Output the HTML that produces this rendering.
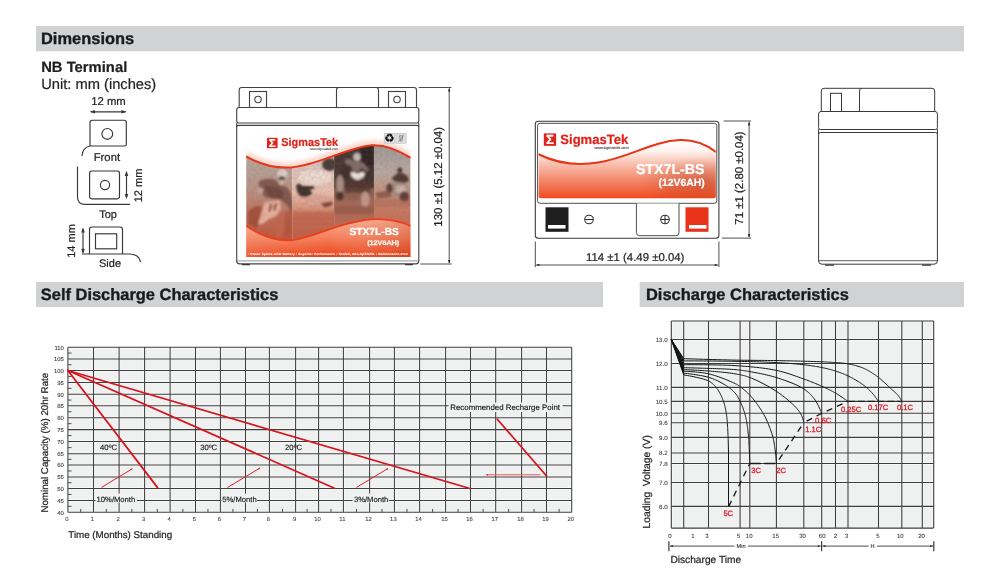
<!DOCTYPE html>
<html lang="en">
<head>
<meta charset="utf-8">
<title>STX7L-BS Dimensions and Discharge Characteristics</title>
<style>
html,body{margin:0;padding:0;background:#fff;}
body{width:1000px;height:576px;overflow:hidden;}
svg{display:block;}
svg text{font-family:"Liberation Sans",sans-serif;fill:#231f20;stroke:#231f20;stroke-width:0.22px;text-rendering:geometricPrecision;}
svg text.h{font-weight:bold;font-size:16.45px;fill:#1a1a1a;stroke:#1a1a1a;stroke-width:0.35px;}
svg text.b{font-weight:bold;}
</style>
</head>
<body>
<svg width="1000" height="576" viewBox="0 0 1000 576">
<rect width="1000" height="576" fill="#fff"/>
<defs>
<linearGradient id="lab1" x1="0" y1="0" x2="0" y2="1">
 <stop offset="0" stop-color="#ffffff"/><stop offset="0.2" stop-color="#fdf3ef"/>
 <stop offset="0.45" stop-color="#f6b9a4"/><stop offset="0.8" stop-color="#ee6a44"/><stop offset="1" stop-color="#e8401c"/>
</linearGradient>
<linearGradient id="redfill" gradientUnits="userSpaceOnUse" x1="0" y1="220" x2="0" y2="257">
 <stop offset="0" stop-color="#f8a98d"/><stop offset="0.45" stop-color="#f4825f"/><stop offset="0.8" stop-color="#ef5a32"/><stop offset="1" stop-color="#ea4318"/>
</linearGradient>
<linearGradient id="p1" x1="0" y1="0" x2="0" y2="1">
 <stop offset="0.15" stop-color="#b5aaa6"/><stop offset="0.45" stop-color="#b99687"/><stop offset="0.7" stop-color="#bd7560"/><stop offset="0.95" stop-color="#c2553a"/>
</linearGradient>
<linearGradient id="p2" x1="0" y1="0" x2="0" y2="1">
 <stop offset="0.2" stop-color="#d9c8c2"/><stop offset="0.5" stop-color="#ebc1b1"/><stop offset="0.66" stop-color="#d7917a"/><stop offset="0.72" stop-color="#c56e54"/><stop offset="1" stop-color="#c25a3f"/>
</linearGradient>
<linearGradient id="p3" x1="0" y1="0" x2="0" y2="1">
 <stop offset="0.05" stop-color="#5c4f4b"/><stop offset="0.4" stop-color="#73584f"/><stop offset="0.6" stop-color="#a26a58"/><stop offset="0.8" stop-color="#bd6b54"/><stop offset="1" stop-color="#c5583e"/>
</linearGradient>
<linearGradient id="p4" x1="0" y1="0" x2="0" y2="1">
 <stop offset="0.05" stop-color="#9e9b99"/><stop offset="0.3" stop-color="#b9aaa3"/><stop offset="0.5" stop-color="#c39482"/><stop offset="0.7" stop-color="#c7775f"/><stop offset="1" stop-color="#cd6146"/>
</linearGradient>
<filter id="bl" x="-20%" y="-20%" width="140%" height="140%"><feGaussianBlur stdDeviation="0.85"/></filter>
<filter id="grain" x="0" y="0" width="100%" height="100%"><feTurbulence type="fractalNoise" baseFrequency="0.35" numOctaves="2" seed="7" result="n"/><feColorMatrix in="n" type="matrix" values="0 0 0 0 0.25  0 0 0 0 0.12  0 0 0 0 0.1  1.6 0 0 0 -0.45"/></filter>
<filter id="glow" x="-10%" y="-40%" width="120%" height="180%"><feGaussianBlur stdDeviation="2"/></filter>
<filter id="bl2" x="-20%" y="-20%" width="140%" height="140%"><feGaussianBlur stdDeviation="0.6"/></filter>
<clipPath id="photoclip"><path d="M246.1 156.3 C262 165.5 278 168.4 291 167.4 C319 165.4 346 147.4 372 145.2 C386 144.4 399 150.4 410.7 157.8 V225.8 C398 220.6 384 217.6 366 219.9 C332 224.6 310 239.6 288 240.4 C274 240.8 258 234.2 246.1 225.8 Z"/></clipPath>
<clipPath id="c1"><rect x="246.1" y="140" width="46.3" height="110"/></clipPath>
<clipPath id="c2"><rect x="292.4" y="140" width="41.7" height="110"/></clipPath>
<clipPath id="c3"><rect x="334.1" y="140" width="39.9" height="110"/></clipPath>
<clipPath id="c4"><rect x="374" y="140" width="36.7" height="110"/></clipPath>
<linearGradient id="redfillx" x1="0" y1="0" x2="1" y2="0">
 <stop offset="0" stop-color="#fff" stop-opacity="0.12"/><stop offset="0.5" stop-color="#fff" stop-opacity="0"/><stop offset="1" stop-color="#a8300f" stop-opacity="0.22"/>
</linearGradient>
<clipPath id="labclip"><rect x="246.1" y="134" width="164.6" height="123"/></clipPath>
</defs>
<rect x="36" y="26" width="928" height="25.3" fill="#d1d2d4"/>
<rect x="36" y="282" width="567" height="25" fill="#d1d2d4"/>
<rect x="639.7" y="282" width="324.3" height="25" fill="#d1d2d4"/>
<text x="41" y="44.4" class="h">Dimensions</text>
<text x="40.8" y="300.3" class="h">Self Discharge Characteristics</text>
<text x="646" y="300.3" class="h">Discharge Characteristics</text>
<text x="41.2" y="72" class="b" font-size="14.8">NB Terminal</text>
<text x="41.2" y="88.6" font-size="14.7">Unit: mm (inches)</text>
<g fill="none" stroke="#383838" stroke-width="1.15">
<path d="M90 146 V122.5 Q90 120.2 92.3 120.2 H124 Q126.3 120.2 126.3 122.5 V144.5 Q126.3 146 124.8 146 H90 Q82.5 147.5 82 156"/>
<circle cx="107.3" cy="133.9" r="5.4"/>
<path d="M91 111.8 H125.5"/>
<path d="M77.5 166.5 V197 Q77.5 204.400 85 204.4 H130"/>
<rect x="89.6" y="171" width="29.9" height="27.8" rx="2.2"/>
<circle cx="105" cy="185" r="4.6"/>
<path d="M126.5 172.5 V197.5"/>
<path d="M82 254 H130 Q139 254.5 140.5 262"/>
<path d="M89.5 254 V229.5 Q89.5 227 92 227 H120 Q122.5 227 122.5 229.5 V254"/>
<rect x="95.5" y="233.8" width="21.2" height="15"/>
<path d="M83 229 V252.5"/>
</g>
<g fill="#3a3a3a" stroke="none">
<path d="M89.7 111.8 L95 110 V113.6 Z M126.7 111.8 L121.4 110 V113.6 Z"/>
<path d="M126.5 170.8 L124.7 176 H128.3 Z M126.5 199.2 L124.7 194 H128.3 Z"/>
<path d="M83 227.2 L81.2 232.4 H84.8 Z M83 254 L81.2 248.8 H84.8 Z"/>
</g>
<text x="108.5" y="105.3" font-size="11.3" text-anchor="middle">12 mm</text>
<text x="106.9" y="160.5" font-size="11.3" text-anchor="middle">Front</text>
<text x="108" y="218" font-size="11" text-anchor="middle">Top</text>
<text x="110" y="267" font-size="11" text-anchor="middle">Side</text>
<text transform="translate(142 185.5) rotate(-90)" font-size="11" text-anchor="middle">12 mm</text>
<text transform="translate(75.3 241) rotate(-90)" font-size="11" text-anchor="middle">14 mm</text>
<g fill="#fff" stroke="#424242" stroke-width="1.12">
<path d="M239.2 107.5 V90 Q239.2 87.5 241.7 87.5 H414 Q416.5 87.5 416.5 90 V107.5 Z"/>
<rect x="249.5" y="91.5" width="17" height="16"/>
<circle cx="258" cy="99.5" r="3.2"/>
<rect x="388.5" y="91.5" width="17" height="16"/>
<circle cx="397" cy="99.5" r="3.2"/>
<path d="M336.5 107.5 V90 Q336.5 87.5 339 87.5 H376 Q378.5 87.5 378.5 90 V107.5"/>
<path d="M236.7 121.3 V110 Q236.7 107.5 239.2 107.5 H416.3 Q418.8 107.5 418.8 110 V121.3 Q418.8 123 416.8 123 H238.7 Q236.700 123 236.7 121.3 Z"/>
<path d="M236.7 127 Q236.7 125.4 238.7 125.4 H416.8 Q418.800 125.4 418.8 127 V261 Q418.8 263.9 415.8 263.9 H239.7 Q236.7 263.9 236.7 261 Z"/>
<path d="M236.7 123 V127 M418.8 123 V127"/>
<path d="M237 260.9 H418.5" stroke-width="0.8" stroke="#777"/>
</g>
<path d="M242 264.6 H250 M405 264.6 H413" stroke="#3a3a3a" stroke-width="1.2" fill="none"/>
<g clip-path="url(#labclip)">
<rect x="246.1" y="134" width="164.6" height="122.6" fill="#fff"/>
<path d="M246.1 156.3 C262 165.5 278 168.4 291 167.4 C319 165.4 346 147.4 372 145.2 C386 144.4 399 150.4 410.7 157.8" fill="none" stroke="#f7c3b2" stroke-width="5" filter="url(#glow)" transform="translate(0 -2.2)" opacity="0.8"/>
<g clip-path="url(#photoclip)">
<rect x="246.1" y="140" width="46.3" height="105" fill="url(#p1)"/>
<rect x="292.4" y="140" width="41.7" height="105" fill="url(#p2)"/>
<rect x="334.1" y="140" width="39.9" height="105" fill="url(#p3)"/>
<rect x="374" y="140" width="36.7" height="105" fill="url(#p4)"/>
<g clip-path="url(#c1)"><g filter="url(#bl)">
<path d="M258.500 182 C262 178.500 270 178 276 180 L279.5 184.500 L286 186.500 L290.500 192 L292.500 203 L292.5 214 L287 205 L280 199.5 L272 198.5 L265 197 L260 191 Z" fill="#7c544b" opacity="0.92"/>
<path d="M264 186 L278 187 L284 193 L282 199 L270 197.500 Z" fill="#6a3f38" opacity="0.7"/>
<ellipse cx="260.6" cy="190.6" rx="2.6" ry="2.8" fill="#d2b2a6" opacity="0.9"/>
<ellipse cx="282.4" cy="174.3" rx="5.3" ry="5.1" fill="#dad2cd"/>
<ellipse cx="281.8" cy="178" rx="3.5" ry="1.7" fill="#41312e" opacity="0.95"/>
<ellipse cx="281.7" cy="182.8" rx="2.4" ry="1.9" fill="#d8c6bd" opacity="0.9"/>
<path d="M248 212 C252 206 260 204 264 208 L262 222 L256 228 L248 224 Z" fill="#98442e" opacity="0.7"/>
<path d="M264.5 202.500 L279.5 200.3 L281 208 L277 216 L269 219 L262.500 224 L258 224.500 Z" fill="#ecb6a2" opacity="0.95"/>
<path d="M270.300 204 L272.6 203.700 L270.4 211.500 L268.2 211.8 Z M275 203.300 L277.2 203 L275.3 210.500 L273.1 210.8 Z" fill="#7a3626" opacity="0.95"/>
<path d="M275.5 215 L283 213.500 L284 226 L281 237 L275.500 237 Z" fill="#c7664e" opacity="0.8"/>
<path d="M284 212 L292.5 210 V235 L285 236 Z" fill="#aa4c34" opacity="0.55"/>
</g></g>
<g clip-path="url(#c2)"><g filter="url(#bl)">
<ellipse cx="329.5" cy="164.5" rx="7.500" ry="6.5" fill="#3b302e" opacity="0.92"/>
<ellipse cx="315" cy="177.5" rx="17" ry="7.5" fill="#f4e7e1" opacity="0.65"/>
<path d="M300 196.500 L308 197.500 L318 194.300 L327 196 L332.500 200.5 L327 206 L313 203.500 L303 201.5 Z" fill="#dba596" opacity="0.95"/>
<path d="M296 185.500 L299 183.200 L302.300 186 L308 186 L313.300 185.800 L314.8 188.300 L310 190 L312.500 194 L306 197.300 L300 196.300 L297 191.500 Z" fill="#3a2a27" opacity="0.96"/>
<path d="M320.500 203.300 L332.500 201 L332 205.300 L325 207.800 Z" fill="#7b3c30" opacity="0.9"/>
<path d="M292.400 211.500 H334.100 V242 H292.400 Z" fill="#c1624a" opacity="0.55"/>
<path d="M293 216 H333 M293 221.500 H333 M293 227 H333" stroke="#d98a74" stroke-width="0.8" opacity="0.5" fill="none"/>
</g></g>
<g clip-path="url(#c3)"><g filter="url(#bl)">
<rect x="334" y="140" width="40" height="48" fill="#3f3330" opacity="0.85"/>
<rect x="360" y="140" width="14" height="26" fill="#231d1c" opacity="0.7"/>
<ellipse cx="346" cy="172" rx="5" ry="9" fill="#3a2c29" opacity="0.6"/>
<ellipse cx="369" cy="176" rx="4.500" ry="12" fill="#3a2c29" opacity="0.55"/>
<path d="M344.300 160.300 L350 158.800 L353.500 161.500 L360.500 161.500 L364 163.500 L368.800 169.800 L367.300 171.500 L361 167.800 L359 171.500 L353 171.500 L351.500 166 L346.500 164.500 Z" fill="#85706a" opacity="0.95"/>
<ellipse cx="357" cy="157" rx="3.6" ry="3.9" fill="#cbbfb9"/>
<path d="M350.800 172.500 C353 171.300 355.500 172.300 357.700 173.800 C360 172.300 362.500 171.300 364.700 172.500 C365.300 175.500 363 178.300 359.500 179.200 L357.700 180.300 L356 179.200 C352.500 178.300 350.200 175.500 350.800 172.500 Z" fill="#f4eae6" opacity="0.97"/>
<path d="M345 181 H370 V193 H345 Z" fill="#54362f" opacity="0.75"/>
<ellipse cx="340" cy="184" rx="3.8" ry="9" fill="#ad958c" opacity="0.95"/>
<ellipse cx="339.8" cy="196" rx="3.8" ry="4.500" fill="#3e2a25" opacity="0.85"/>
<ellipse cx="365.2" cy="199.500" rx="4.3" ry="8" fill="#c49c8f" opacity="0.95"/>
<ellipse cx="353" cy="196" rx="6" ry="4" fill="#8e5a4c" opacity="0.6"/>
<rect x="334" y="206" width="40" height="8" fill="#8a4a3a" opacity="0.45"/>
</g></g>
<g clip-path="url(#c4)"><g filter="url(#bl)">
<ellipse cx="399.8" cy="170.3" rx="2.5" ry="2.7" fill="#47372f"/>
<path d="M391.500 178.500 L397 173.500 L402.500 173 L407.500 176 L409 181 L404 183.500 L396 182.500 Z" fill="#48352f" opacity="0.96"/>
<path d="M387.500 184 L395 181.500 L405 183 L409.500 188 L409 194 L404 198 L395 196.500 L388 192 Z" fill="#a58a80" opacity="0.95"/>
<path d="M396 186 L404 185 L407 190 L402 194 L396 192 Z" fill="#cdb8ae" opacity="0.9"/>
<ellipse cx="404.300" cy="196.500" rx="4.800" ry="5.3" fill="#573830" opacity="0.92"/>
<ellipse cx="389.500" cy="188.500" rx="3.300" ry="5" fill="#4a352f" opacity="0.85"/>
<path d="M375.500 192.500 L389 190.500 L392 197 L377 198.500 Z" fill="#875444" opacity="0.85"/>
<path d="M374 199 H411 V207 H374 Z" fill="#a65c48" opacity="0.4"/>
</g></g>
<rect x="246" y="140" width="165" height="105" filter="url(#grain)" opacity="0.22"/>
</g>
<path d="M246.1 225.8 C258 234.2 274 240.8 288 240.4 C310 239.6 332 224.6 366 219.9 C384 217.6 398 220.6 410.7 225.8 V257.2 H246.1 Z" fill="url(#redfill)"/>
<path d="M246.1 225.8 C258 234.2 274 240.8 288 240.4 C310 239.6 332 224.6 366 219.9 C384 217.6 398 220.6 410.7 225.8 V257.2 H246.1 Z" fill="url(#redfillx)"/>
<path d="M246.1 225.8 C258 234.2 274 240.8 288 240.4 C310 239.6 332 224.6 366 219.9 C384 217.6 398 220.6 410.7 225.8" fill="none" stroke="#ee3d18" stroke-width="1.8"/>
<path d="M246.1 156.3 C262 165.5 278 168.4 291 167.4 C319 165.4 346 147.4 372 145.2 C386 144.4 399 150.4 410.7 157.8" fill="none" stroke="#ea3318" stroke-width="2"/>
</g>
<rect x="267" y="137.8" width="10.6" height="10.4" fill="#e2231a"/>
<text x="272.3" y="147" font-size="11.5" font-family="'Liberation Serif',serif" font-weight="bold" style="fill:#fff;stroke:#fff" text-anchor="middle">Σ</text>
<text x="281.2" y="146.3" font-size="11.4" class="b" style="fill:#e2231a;stroke:#e2231a" textLength="57" lengthAdjust="spacingAndGlyphs">SigmasTek</text>
<text x="338.2" y="150.3" font-size="3.3" style="fill:#444;stroke:#444;stroke-width:0.08px" text-anchor="end" textLength="28.4" lengthAdjust="spacingAndGlyphs">www.sigmastek.com</text>
<rect x="384.2" y="133.300" width="10.4" height="9.9" fill="#e4e4e4" stroke="#b9b9b9" stroke-width="0.6"/>
<rect x="395.9" y="133.300" width="10.2" height="9.9" fill="#dedede" stroke="#b9b9b9" stroke-width="0.6"/>
<text x="389.4" y="142.300" font-size="11.5" font-family="'DejaVu Sans',sans-serif" style="fill:#0c0c0c;stroke:#0c0c0c" text-anchor="middle">♻</text>
<path d="M399 135.800 H403.3 M399.600 136 L400.3 141 H402 L402.700 136 M398.800 141.700 L403.500 135.300" fill="none" stroke="#6e6e6e" stroke-width="0.7"/>
<text x="398.8" y="235.3" font-size="10.2" class="b" style="fill:#fff;stroke:#fff" text-anchor="end">STX7L-BS</text>
<text x="399.2" y="244.9" font-size="6.6" class="b" style="fill:#fdeee9;stroke:#fdeee9;stroke-width:0.3px" text-anchor="end" textLength="32" lengthAdjust="spacingAndGlyphs">(12V6AH)</text>
<text x="247.8" y="254.8" font-size="3" class="b" style="fill:#fff;stroke:#fff;stroke-width:0.08px" textLength="160" lengthAdjust="spacing">• Power Sports AGM Battery   • Superior Performance   • Sealed, Non-Spillable   • Maintenance-Free</text>
<g fill="none" stroke="#3a3a3a" stroke-width="0.9">
<path d="M418.800 87.5 H451.4 M420.3 264 H451.5 M449.2 88.5 V263"/>
</g>
<path d="M449.2 87.7 L448.100 91.6 H450.300 Z M449.2 263.8 L448.1 259.9 H450.3 Z" fill="#222"/>
<text transform="translate(442.4 176.8) rotate(-90)" font-size="11.45" text-anchor="middle">130 ±1 (5.12 ±0.04)</text>
<defs>
<linearGradient id="tl" gradientUnits="userSpaceOnUse" x1="0" y1="140" x2="0" y2="200">
 <stop offset="0" stop-color="#ffffff"/><stop offset="0.18" stop-color="#fef3ef"/><stop offset="0.36" stop-color="#f9c9ba"/><stop offset="0.58" stop-color="#f59a80"/><stop offset="0.82" stop-color="#f26a46"/><stop offset="0.97" stop-color="#ef4a1e"/><stop offset="1" stop-color="#ee4318"/>
</linearGradient>
<radialGradient id="tlx" gradientUnits="userSpaceOnUse" cx="700" cy="182" r="60" gradientTransform="translate(700 182) scale(1 0.42) translate(-700 -182)">
 <stop offset="0" stop-color="#a83214" stop-opacity="0.42"/><stop offset="0.5" stop-color="#b83a18" stop-opacity="0.25"/><stop offset="1" stop-color="#c9391a" stop-opacity="0"/>
</radialGradient>
<clipPath id="tclip"><rect x="538.6" y="124" width="177.2" height="74.3" rx="2"/></clipPath>
</defs>
<rect x="535.3" y="121.3" width="183.6" height="117" rx="3" fill="#fff" stroke="#3a3a3a" stroke-width="1.1"/>
<rect x="537.6" y="123.3" width="179.2" height="80" rx="2.5" fill="#fff" stroke="#3a3a3a" stroke-width="0.9"/>
<g clip-path="url(#tclip)">
<rect x="538" y="123" width="179" height="77" fill="#fff"/>
<path d="M538 154 C556 163 576 166 598 162.500 C630 157.500 652 141 680 140 C696 139.5 707 145 716 152 V200 H538 Z" fill="url(#tl)"/>
<path d="M538 154 C556 163 576 166 598 162.5 C630 157.5 652 141 680 140 C696 139.5 707 145 716 152 V200 H538 Z" fill="url(#tlx)"/>
<path d="M538 154 C556 163 576 166 598 162.5 C630 157.5 652 141 680 140 C696 139.5 707 145 716 152" fill="none" stroke="#ea3318" stroke-width="2.1"/>
</g>
<rect x="543.8" y="133.4" width="12.3" height="12.4" fill="#e2231a"/>
<text x="550" y="144.3" font-size="13.2" font-family="'Liberation Serif',serif" font-weight="bold" style="fill:#fff;stroke:#fff" text-anchor="middle">Σ</text>
<text x="560.3" y="144" font-size="13.4" class="b" style="fill:#e2231a;stroke:#e2231a" textLength="68" lengthAdjust="spacingAndGlyphs">SigmasTek</text>
<text x="628.6" y="148.600" font-size="3.9" style="fill:#333;stroke:#333;stroke-width:0.08px" text-anchor="end" textLength="34" lengthAdjust="spacingAndGlyphs">www.sigmastek.com</text>
<text x="704.5" y="174.4" font-size="14.2" class="b" style="fill:#fff;stroke:#fff" text-anchor="end">STX7L-BS</text>
<text x="704.7" y="186.3" font-size="10.4" class="b" style="fill:#fff;stroke:#fff" text-anchor="end">(12V6AH)</text>
<rect x="545.5" y="207.3" width="23" height="24.5" fill="#1e1e1e"/>
<rect x="548" y="225" width="17.5" height="3.6" fill="#fff"/>
<rect x="685.5" y="207.3" width="23" height="24.5" fill="#e8321a"/>
<rect x="689" y="225" width="17.5" height="3.6" fill="#fff"/>
<path d="M636.4 203.5 V232.5 Q636.4 235.7 639.500 235.7 H676 Q679 235.7 679 232.5 V203.5" fill="#fff" stroke="#3a3a3a" stroke-width="0.9"/>
<g fill="none" stroke="#2e2e2e" stroke-width="1.05"><circle cx="589" cy="219.5" r="4.3"/><path d="M585 219.5 H593"/><circle cx="665" cy="219.5" r="4.3"/><path d="M661 219.5 H669 M665 215.500 V223.5"/></g>
<g fill="none" stroke="#3a3a3a" stroke-width="0.9">
<path d="M723.7 121 H751 M722 238.100 H751 M749.1 122.500 V237"/>
<path d="M535.3 241.5 V267 M718.9 241.500 V267 M536.5 265 H717.5"/>
</g>
<path d="M749.1 121.3 L748 125.2 H750.2 Z M749.1 238 L748 234.1 H750.2 Z M535.5 265 L539.400 263.9 V266.1 Z M718.7 265 L714.8 263.9 V266.1 Z" fill="#222"/>
<text transform="translate(742.6 178) rotate(-90)" font-size="11.45" text-anchor="middle">71 ±1 (2.80 ±0.04)</text>
<text x="635.2" y="261.2" font-size="11.4" text-anchor="middle">114 ±1 (4.49 ±0.04)</text>
<g fill="#fff" stroke="#3a3a3a" stroke-width="1">
<path d="M821.3 111.5 V91 Q821.3 88.3 824 88.3 H932 Q934.7 88.3 934.7 91 V111.5 Z"/>
<path d="M859.5 111.5 V91 Q859.5 88.3 862 88.3"/>
<rect x="830.5" y="93.300" width="11" height="18.2"/>
<path d="M818.6 127.5 V114 Q818.6 111.5 821 111.5 H935 Q937.400 111.5 937.4 114 V127.5 Q937.400 129.5 935.4 129.5 H820.6 Q818.6 129.5 818.6 127.5 Z"/>
<path d="M818.6 134.500 Q818.6 132.5 820.6 132.5 H935.4 Q937.4 132.5 937.4 134.5 V261 Q937.4 264.2 934 264.2 H822 Q818.6 264.2 818.6 261 Z"/>
<path d="M818.6 129 V134.5 M937.4 129 V134.5"/>
<path d="M819 260.700 H937" stroke-width="0.8"/>
</g>
<path d="M825 265.200 H834 M922 265.200 H931" stroke="#3a3a3a" stroke-width="1.2" fill="none"/>
<rect x="67.9" y="347.3" width="503.80" height="165.00" fill="#eff0f0"/>
<path d="M67.9 347.3 V512.3 M93.5 347.3 V512.3 M119.1 347.3 V512.3 M144.6 347.3 V512.3 M170.1 347.3 V512.3 M195.5 347.3 V512.3 M220.4 347.3 V512.3 M245.5 347.3 V512.3 M269.4 347.3 V512.3 M295.6 347.3 V512.3 M318.6 347.3 V512.3 M343.4 347.3 V512.3 M369.6 347.3 V512.3 M394.4 347.3 V512.3 M419.6 347.3 V512.3 M445.6 347.3 V512.3 M470.5 347.3 V512.3 M495.7 347.3 V512.3 M521.6 347.3 V512.3 M546.5 347.3 V512.3 M571.7 347.3 V512.3 M67.9 347.3 H571.7 M67.9 358.9 H571.7 M67.9 370.5 H571.7 M67.9 382.4 H571.7 M67.9 394.3 H571.7 M67.9 405.8 H571.7 M67.9 417.7 H571.7 M67.9 429.6 H571.7 M67.9 441.5 H571.7 M67.9 453.7 H571.7 M67.9 465.0 H571.7 M67.9 476.9 H571.7 M67.9 488.5 H571.7 M67.9 500.4 H571.7 M67.9 512.3 H571.7 " fill="none" stroke="#fff" stroke-width="2.4" opacity="0.6"/>
<path d="M67.9 347.3 V512.3 M93.5 347.3 V512.3 M119.1 347.3 V512.3 M144.6 347.3 V512.3 M170.1 347.3 V512.3 M195.5 347.3 V512.3 M220.4 347.3 V512.3 M245.5 347.3 V512.3 M269.4 347.3 V512.3 M295.6 347.3 V512.3 M318.6 347.3 V512.3 M343.4 347.3 V512.3 M369.6 347.3 V512.3 M394.4 347.3 V512.3 M419.6 347.3 V512.3 M445.6 347.3 V512.3 M470.5 347.3 V512.3 M495.7 347.3 V512.3 M521.6 347.3 V512.3 M546.5 347.3 V512.3 M571.7 347.3 V512.3 M67.9 347.3 H571.7 M67.9 358.9 H571.7 M67.9 370.5 H571.7 M67.9 382.4 H571.7 M67.9 394.3 H571.7 M67.9 405.8 H571.7 M67.9 417.7 H571.7 M67.9 429.6 H571.7 M67.9 441.5 H571.7 M67.9 453.7 H571.7 M67.9 465.0 H571.7 M67.9 476.9 H571.7 M67.9 488.5 H571.7 M67.9 500.4 H571.7 M67.9 512.3 H571.7 " fill="none" stroke="#3f3f3f" stroke-width="1.05"/>
<path d="M67.9 353.10 h3.6 M67.9 364.70 h3.6 M67.9 376.45 h3.6 M67.9 388.35 h3.6 M67.9 400.05 h3.6 M67.9 411.75 h3.6 M67.9 423.65 h3.6 M67.9 435.55 h3.6 M67.9 447.60 h3.6 M67.9 459.35 h3.6 M67.9 470.95 h3.6 M67.9 482.70 h3.6 M67.9 494.45 h3.6 M67.9 506.35 h3.6 M80.70 512.3 v-3.4 M106.30 512.3 v-3.4 M131.85 512.3 v-3.4 M157.35 512.3 v-3.4 M182.80 512.3 v-3.4 M207.95 512.3 v-3.4 M232.95 512.3 v-3.4 M257.45 512.3 v-3.4 M282.50 512.3 v-3.4 M307.10 512.3 v-3.4 M331.00 512.3 v-3.4 M356.50 512.3 v-3.4 M382.00 512.3 v-3.4 M407.00 512.3 v-3.4 M432.60 512.3 v-3.4 M458.05 512.3 v-3.4 M483.10 512.3 v-3.4 M508.65 512.3 v-3.4 M534.05 512.3 v-3.4 M559.10 512.3 v-3.4 " fill="none" stroke="#3f3f3f" stroke-width="0.9"/>
<rect x="95.6" y="493.6" width="41.2" height="8.8" fill="#f1f2f2"/>
<rect x="221.4" y="493.6" width="35.6" height="8.8" fill="#f1f2f2"/>
<rect x="352.6" y="493.6" width="36.2" height="8.8" fill="#f1f2f2"/>
<rect x="448.6" y="402.6" width="114" height="9.4" fill="#f1f2f2"/>
<text x="63.8" y="349.60" font-size="5.9" text-anchor="end" style="fill:#333;stroke:#333;stroke-width:0.08px">110</text>
<text x="63.8" y="361.20" font-size="5.9" text-anchor="end" style="fill:#333;stroke:#333;stroke-width:0.08px">105</text>
<text x="63.8" y="372.80" font-size="5.9" text-anchor="end" style="fill:#333;stroke:#333;stroke-width:0.08px">100</text>
<text x="63.8" y="384.70" font-size="5.9" text-anchor="end" style="fill:#333;stroke:#333;stroke-width:0.08px">95</text>
<text x="63.8" y="396.60" font-size="5.9" text-anchor="end" style="fill:#333;stroke:#333;stroke-width:0.08px">90</text>
<text x="63.8" y="408.10" font-size="5.9" text-anchor="end" style="fill:#333;stroke:#333;stroke-width:0.08px">85</text>
<text x="63.8" y="420.00" font-size="5.9" text-anchor="end" style="fill:#333;stroke:#333;stroke-width:0.08px">80</text>
<text x="63.8" y="431.90" font-size="5.9" text-anchor="end" style="fill:#333;stroke:#333;stroke-width:0.08px">75</text>
<text x="63.8" y="443.80" font-size="5.9" text-anchor="end" style="fill:#333;stroke:#333;stroke-width:0.08px">70</text>
<text x="63.8" y="456.00" font-size="5.9" text-anchor="end" style="fill:#333;stroke:#333;stroke-width:0.08px">65</text>
<text x="63.8" y="467.30" font-size="5.9" text-anchor="end" style="fill:#333;stroke:#333;stroke-width:0.08px">60</text>
<text x="63.8" y="479.20" font-size="5.9" text-anchor="end" style="fill:#333;stroke:#333;stroke-width:0.08px">55</text>
<text x="63.8" y="490.80" font-size="5.9" text-anchor="end" style="fill:#333;stroke:#333;stroke-width:0.08px">50</text>
<text x="63.8" y="502.70" font-size="5.9" text-anchor="end" style="fill:#333;stroke:#333;stroke-width:0.08px">45</text>
<text x="63.8" y="514.60" font-size="5.9" text-anchor="end" style="fill:#333;stroke:#333;stroke-width:0.08px">40</text>
<text x="66.90" y="521.4" font-size="5.9" text-anchor="middle" style="fill:#3c3c3c;stroke:#3c3c3c;stroke-width:0.08px">0</text>
<text x="92.50" y="521.4" font-size="5.9" text-anchor="middle" style="fill:#3c3c3c;stroke:#3c3c3c;stroke-width:0.08px">1</text>
<text x="118.10" y="521.4" font-size="5.9" text-anchor="middle" style="fill:#3c3c3c;stroke:#3c3c3c;stroke-width:0.08px">2</text>
<text x="143.60" y="521.4" font-size="5.9" text-anchor="middle" style="fill:#3c3c3c;stroke:#3c3c3c;stroke-width:0.08px">3</text>
<text x="169.10" y="521.4" font-size="5.9" text-anchor="middle" style="fill:#3c3c3c;stroke:#3c3c3c;stroke-width:0.08px">4</text>
<text x="194.50" y="521.4" font-size="5.9" text-anchor="middle" style="fill:#3c3c3c;stroke:#3c3c3c;stroke-width:0.08px">5</text>
<text x="219.40" y="521.4" font-size="5.9" text-anchor="middle" style="fill:#3c3c3c;stroke:#3c3c3c;stroke-width:0.08px">6</text>
<text x="244.50" y="521.4" font-size="5.9" text-anchor="middle" style="fill:#3c3c3c;stroke:#3c3c3c;stroke-width:0.08px">7</text>
<text x="268.40" y="521.4" font-size="5.9" text-anchor="middle" style="fill:#3c3c3c;stroke:#3c3c3c;stroke-width:0.08px">8</text>
<text x="294.60" y="521.4" font-size="5.9" text-anchor="middle" style="fill:#3c3c3c;stroke:#3c3c3c;stroke-width:0.08px">9</text>
<text x="317.60" y="521.4" font-size="5.9" text-anchor="middle" style="fill:#3c3c3c;stroke:#3c3c3c;stroke-width:0.08px">10</text>
<text x="342.40" y="521.4" font-size="5.9" text-anchor="middle" style="fill:#3c3c3c;stroke:#3c3c3c;stroke-width:0.08px">11</text>
<text x="368.60" y="521.4" font-size="5.9" text-anchor="middle" style="fill:#3c3c3c;stroke:#3c3c3c;stroke-width:0.08px">12</text>
<text x="393.40" y="521.4" font-size="5.9" text-anchor="middle" style="fill:#3c3c3c;stroke:#3c3c3c;stroke-width:0.08px">13</text>
<text x="418.60" y="521.4" font-size="5.9" text-anchor="middle" style="fill:#3c3c3c;stroke:#3c3c3c;stroke-width:0.08px">14</text>
<text x="444.60" y="521.4" font-size="5.9" text-anchor="middle" style="fill:#3c3c3c;stroke:#3c3c3c;stroke-width:0.08px">15</text>
<text x="469.50" y="521.4" font-size="5.9" text-anchor="middle" style="fill:#3c3c3c;stroke:#3c3c3c;stroke-width:0.08px">16</text>
<text x="494.70" y="521.4" font-size="5.9" text-anchor="middle" style="fill:#3c3c3c;stroke:#3c3c3c;stroke-width:0.08px">17</text>
<text x="520.60" y="521.4" font-size="5.9" text-anchor="middle" style="fill:#3c3c3c;stroke:#3c3c3c;stroke-width:0.08px">18</text>
<text x="545.50" y="521.4" font-size="5.9" text-anchor="middle" style="fill:#3c3c3c;stroke:#3c3c3c;stroke-width:0.08px">19</text>
<text x="570.70" y="521.4" font-size="5.9" text-anchor="middle" style="fill:#3c3c3c;stroke:#3c3c3c;stroke-width:0.08px">20</text>
<g fill="none" stroke="#d8121b" stroke-width="1.75" stroke-linecap="round">
<path d="M67.9 370.5 L157.6 487.6"/>
<path d="M67.9 370.5 L334.5 488.2"/>
<path d="M67.9 370.5 L470 488.5"/>
<path d="M497.300 419.2 L546.8 476.2"/>
</g>
<g fill="none" stroke="#e0222a" stroke-width="1">
<path d="M101.5 487.4 L132.3 468.8 M227.5 487.5 L260 468 M356.3 487.5 L388 468.5"/>
<path d="M486.3 474.8 H540.5" stroke="#e8595c"/>
</g>
<path d="M132.6 468.6 l-2.4 0.4 l1 1.6 Z M260.3 467.8 l-2.4 0.4 l1 1.6 Z M388.300 468.3 l-2.4 0.4 l1 1.6 Z M485.8 474.8 l2.2 -0.9 v1.8 Z" fill="#e02a30"/>
<text x="100.1" y="449.9" font-size="7.7" style="fill:#202020;stroke:#202020;stroke-width:0.16px">40ºC</text>
<text x="200.2" y="449.9" font-size="7.7" style="fill:#202020;stroke:#202020;stroke-width:0.16px">30ºC</text>
<text x="285.1" y="449.9" font-size="7.7" style="fill:#202020;stroke:#202020;stroke-width:0.16px">20ºC</text>
<text x="96.6" y="501.5" font-size="7.65" style="fill:#202020;stroke:#202020;stroke-width:0.16px">10%/Month</text>
<text x="222.3" y="501.5" font-size="7.65" style="fill:#202020;stroke:#202020;stroke-width:0.16px">5%/Month</text>
<text x="353.9" y="501.5" font-size="7.65" style="fill:#202020;stroke:#202020;stroke-width:0.16px">3%/Month</text>
<text x="450.3" y="410.1" font-size="7.87" style="fill:#202020;stroke:#202020;stroke-width:0.16px">Recommended Recharge Point</text>
<text transform="translate(48.4 512.6) rotate(-90)" font-size="9.75">Nominal Capacity (%) 20hr Rate</text>
<text x="68.3" y="538.1" font-size="9.78">Time (Months) Standing</text>
<rect x="671.3" y="321.0" width="262.40" height="207.10" fill="#eff0f0"/>
<path d="M671.3 321.0 V528.1 M683.7 321.0 V528.1 M708.5 321.0 V528.1 M740.1 321.0 V528.1 M749.8 321.0 V528.1 M776.4 321.0 V528.1 M803.8 321.0 V528.1 M821.7 321.0 V528.1 M835.5 321.0 V528.1 M848.0 321.0 V528.1 M878.5 321.0 V528.1 M901.8 321.0 V528.1 M922.3 321.0 V528.1 M933.7 321.0 V528.1 M671.3 321.0 H933.7 M671.3 339.5 H933.7 M671.3 363.5 H933.7 M671.3 387.4 H933.7 M671.3 401.4 H933.7 M671.3 413.3 H933.7 M671.3 422.7 H933.7 M671.3 437.4 H933.7 M671.3 453.0 H933.7 M671.3 463.5 H933.7 M671.3 482.5 H933.7 M671.3 506.4 H933.7 M671.3 528.1 H933.7 " fill="none" stroke="#fff" stroke-width="2.4" opacity="0.6"/>
<path d="M671.3 321.0 V528.1 M683.7 321.0 V528.1 M708.5 321.0 V528.1 M740.1 321.0 V528.1 M749.8 321.0 V528.1 M776.4 321.0 V528.1 M803.8 321.0 V528.1 M821.7 321.0 V528.1 M835.5 321.0 V528.1 M848.0 321.0 V528.1 M878.5 321.0 V528.1 M901.8 321.0 V528.1 M922.3 321.0 V528.1 M933.7 321.0 V528.1 M671.3 321.0 H933.7 M671.3 339.5 H933.7 M671.3 363.5 H933.7 M671.3 387.4 H933.7 M671.3 401.4 H933.7 M671.3 413.3 H933.7 M671.3 422.7 H933.7 M671.3 437.4 H933.7 M671.3 453.0 H933.7 M671.3 463.5 H933.7 M671.3 482.5 H933.7 M671.3 506.4 H933.7 M671.3 528.1 H933.7 " fill="none" stroke="#3d3d3d" stroke-width="1.1"/>
<text x="667.7" y="341.8" font-size="6.2" text-anchor="end" style="fill:#3c3c3c;stroke:#3c3c3c;stroke-width:0.08px">13.0</text>
<text x="667.7" y="365.8" font-size="6.2" text-anchor="end" style="fill:#3c3c3c;stroke:#3c3c3c;stroke-width:0.08px">12.0</text>
<text x="667.7" y="389.7" font-size="6.2" text-anchor="end" style="fill:#3c3c3c;stroke:#3c3c3c;stroke-width:0.08px">11.0</text>
<text x="667.7" y="403.7" font-size="6.2" text-anchor="end" style="fill:#3c3c3c;stroke:#3c3c3c;stroke-width:0.08px">10.5</text>
<text x="667.7" y="415.6" font-size="6.2" text-anchor="end" style="fill:#3c3c3c;stroke:#3c3c3c;stroke-width:0.08px">10.0</text>
<text x="667.7" y="425.0" font-size="6.2" text-anchor="end" style="fill:#3c3c3c;stroke:#3c3c3c;stroke-width:0.08px">9.6</text>
<text x="667.7" y="439.7" font-size="6.2" text-anchor="end" style="fill:#3c3c3c;stroke:#3c3c3c;stroke-width:0.08px">9.0</text>
<text x="667.7" y="455.3" font-size="6.2" text-anchor="end" style="fill:#3c3c3c;stroke:#3c3c3c;stroke-width:0.08px">8.2</text>
<text x="667.7" y="465.8" font-size="6.2" text-anchor="end" style="fill:#3c3c3c;stroke:#3c3c3c;stroke-width:0.08px">7.8</text>
<text x="667.7" y="484.8" font-size="6.2" text-anchor="end" style="fill:#3c3c3c;stroke:#3c3c3c;stroke-width:0.08px">7.0</text>
<text x="667.7" y="508.7" font-size="6.2" text-anchor="end" style="fill:#3c3c3c;stroke:#3c3c3c;stroke-width:0.08px">6.0</text>
<text x="670" y="538.3" font-size="6.0" text-anchor="middle" style="fill:#3c3c3c;stroke:#3c3c3c;stroke-width:0.08px">0</text>
<text x="692.8" y="538.3" font-size="6.0" text-anchor="middle" style="fill:#3c3c3c;stroke:#3c3c3c;stroke-width:0.08px">1</text>
<text x="706.8" y="538.3" font-size="6.0" text-anchor="middle" style="fill:#3c3c3c;stroke:#3c3c3c;stroke-width:0.08px">3</text>
<text x="738.7" y="538.3" font-size="6.0" text-anchor="middle" style="fill:#3c3c3c;stroke:#3c3c3c;stroke-width:0.08px">5</text>
<text x="749.2" y="538.3" font-size="6.0" text-anchor="middle" style="fill:#3c3c3c;stroke:#3c3c3c;stroke-width:0.08px">10</text>
<text x="775.7" y="538.3" font-size="6.0" text-anchor="middle" style="fill:#3c3c3c;stroke:#3c3c3c;stroke-width:0.08px">15</text>
<text x="802.5" y="538.3" font-size="6.0" text-anchor="middle" style="fill:#3c3c3c;stroke:#3c3c3c;stroke-width:0.08px">30</text>
<text x="822.2" y="538.3" font-size="6.0" text-anchor="middle" style="fill:#3c3c3c;stroke:#3c3c3c;stroke-width:0.08px">60</text>
<text x="835.5" y="538.3" font-size="6.0" text-anchor="middle" style="fill:#3c3c3c;stroke:#3c3c3c;stroke-width:0.08px">2</text>
<text x="846.7" y="538.3" font-size="6.0" text-anchor="middle" style="fill:#3c3c3c;stroke:#3c3c3c;stroke-width:0.08px">3</text>
<text x="878" y="538.3" font-size="6.0" text-anchor="middle" style="fill:#3c3c3c;stroke:#3c3c3c;stroke-width:0.08px">5</text>
<text x="900.3" y="538.3" font-size="6.0" text-anchor="middle" style="fill:#3c3c3c;stroke:#3c3c3c;stroke-width:0.08px">10</text>
<text x="921.5" y="538.3" font-size="6.0" text-anchor="middle" style="fill:#3c3c3c;stroke:#3c3c3c;stroke-width:0.08px">20</text>
<path d="M671.3 339.5 L683.9 358.4 V375.2 Z" fill="#1c1c1c"/>
<path d="M676.5 350.500 l1.6 -0.9 M678.5 354.5 l2.2 -1.2 M680.300 358.600 l2.6 -1.4 M681.5 362.600 l1.8 -0.9" stroke="#e8e8e8" stroke-width="0.7" fill="none"/>
<g fill="none" stroke="#151515" stroke-width="1.0" stroke-linejoin="round">
<path d="M671.3 339.5 L683.70 358.70 L684.22 358.72 L685.69 358.76 L688.01 358.83 L691.04 358.92 L694.67 359.03 L698.79 359.15 L703.28 359.28 L708.01 359.42 L712.87 359.55 L717.75 359.68 L722.52 359.81 L727.06 359.92 L731.26 360.02 L735.00 360.10 L738.10 360.16 L741.14 360.20 L744.15 360.24 L747.12 360.28 L750.07 360.31 L753.00 360.33 L755.91 360.36 L758.82 360.38 L761.72 360.40 L764.64 360.43 L767.57 360.46 L770.51 360.50 L773.49 360.55 L776.50 360.60 L779.74 360.66 L783.10 360.73 L786.55 360.81 L790.07 360.88 L793.61 360.96 L797.16 361.05 L800.67 361.14 L804.12 361.23 L807.48 361.32 L810.72 361.41 L813.80 361.51 L816.69 361.61 L819.37 361.70 L821.80 361.80 L823.03 361.85 L824.18 361.91 L825.27 361.96 L826.31 362.01 L827.31 362.06 L828.26 362.11 L829.19 362.16 L830.09 362.22 L830.98 362.28 L831.87 362.33 L832.75 362.40 L833.65 362.46 L834.56 362.53 L835.50 362.60 L836.41 362.67 L837.31 362.73 L838.20 362.78 L839.08 362.84 L839.96 362.89 L840.84 362.95 L841.72 363.02 L842.60 363.09 L843.48 363.17 L844.37 363.26 L845.26 363.37 L846.16 363.49 L847.08 363.64 L848.00 363.80 L849.06 364.01 L850.14 364.22 L851.24 364.46 L852.35 364.71 L853.46 364.97 L854.58 365.26 L855.71 365.55 L856.84 365.87 L857.96 366.21 L859.07 366.56 L860.18 366.94 L861.27 367.34 L862.34 367.76 L863.40 368.20 L864.45 368.67 L865.50 369.17 L866.53 369.69 L867.56 370.23 L868.58 370.80 L869.59 371.39 L870.60 371.99 L871.59 372.61 L872.58 373.25 L873.56 373.89 L874.53 374.56 L875.50 375.23 L876.45 375.91 L877.40 376.60 L878.36 377.32 L879.31 378.07 L880.25 378.85 L881.19 379.65 L882.13 380.47 L883.05 381.29 L883.96 382.13 L884.87 382.97 L885.76 383.80 L886.63 384.64 L887.50 385.45 L888.35 386.26 L889.18 387.04 L890.00 387.80 L890.68 388.42 L891.37 389.04 L892.05 389.65 L892.73 390.25 L893.40 390.85 L894.07 391.44 L894.72 392.02 L895.35 392.61 L895.96 393.18 L896.55 393.75 L897.11 394.32 L897.64 394.88 L898.14 395.44 L898.60 396.00 L898.92 396.43 L899.25 396.89 L899.57 397.38 L899.89 397.89 L900.19 398.41 L900.49 398.91 L900.76 399.40 L901.01 399.87 L901.23 400.29 L901.43 400.66 L901.58 400.97 L901.70 401.20 L901.77 401.35 L901.80 401.40"/>
<path d="M671.3 339.5 L683.70 360.90 L684.22 360.90 L685.69 360.91 L688.01 360.91 L691.04 360.92 L694.67 360.94 L698.79 360.96 L703.28 360.98 L708.01 361.01 L712.87 361.04 L717.75 361.08 L722.52 361.13 L727.06 361.18 L731.26 361.24 L735.00 361.30 L738.12 361.36 L741.24 361.43 L744.35 361.49 L747.45 361.56 L750.52 361.64 L753.57 361.72 L756.60 361.80 L759.59 361.89 L762.53 361.99 L765.44 362.10 L768.29 362.21 L771.09 362.33 L773.83 362.46 L776.50 362.60 L778.60 362.72 L780.67 362.84 L782.70 362.96 L784.70 363.09 L786.68 363.22 L788.62 363.36 L790.53 363.51 L792.42 363.66 L794.27 363.81 L796.11 363.97 L797.91 364.14 L799.70 364.32 L801.46 364.51 L803.20 364.70 L804.64 364.87 L806.05 365.04 L807.45 365.21 L808.82 365.39 L810.18 365.58 L811.53 365.76 L812.85 365.96 L814.16 366.16 L815.45 366.36 L816.73 366.58 L817.99 366.80 L819.24 367.02 L820.48 367.26 L821.70 367.50 L822.75 367.72 L823.78 367.93 L824.80 368.16 L825.80 368.38 L826.79 368.61 L827.77 368.85 L828.74 369.09 L829.70 369.34 L830.66 369.60 L831.61 369.86 L832.56 370.13 L833.51 370.41 L834.45 370.70 L835.40 371.00 L836.32 371.30 L837.23 371.60 L838.14 371.90 L839.04 372.21 L839.93 372.53 L840.82 372.85 L841.70 373.18 L842.59 373.53 L843.48 373.88 L844.37 374.25 L845.27 374.64 L846.17 375.04 L847.08 375.46 L848.00 375.90 L849.08 376.43 L850.20 377.00 L851.33 377.60 L852.49 378.22 L853.65 378.86 L854.82 379.51 L855.98 380.19 L857.13 380.87 L858.26 381.56 L859.36 382.26 L860.44 382.95 L861.47 383.64 L862.46 384.33 L863.40 385.00 L864.11 385.53 L864.79 386.06 L865.46 386.58 L866.10 387.11 L866.72 387.64 L867.32 388.17 L867.92 388.70 L868.49 389.23 L869.06 389.78 L869.62 390.32 L870.17 390.88 L870.72 391.44 L871.26 392.02 L871.80 392.60 L872.36 393.23 L872.96 393.94 L873.58 394.72 L874.22 395.53 L874.86 396.37 L875.49 397.21 L876.09 398.02 L876.65 398.79 L877.16 399.50 L877.61 400.13 L877.98 400.65 L878.26 401.05 L878.44 401.31 L878.50 401.40"/>
<path d="M671.3 339.5 L683.70 364.70 L684.22 364.70 L685.69 364.69 L688.01 364.69 L691.04 364.69 L694.68 364.70 L698.80 364.72 L703.29 364.75 L708.02 364.79 L712.88 364.86 L717.76 364.95 L722.53 365.07 L727.07 365.21 L731.26 365.39 L735.00 365.60 L738.13 365.81 L741.25 366.03 L744.36 366.27 L747.46 366.52 L750.54 366.78 L753.59 367.07 L756.62 367.38 L759.60 367.72 L762.55 368.08 L765.45 368.47 L768.31 368.90 L771.10 369.36 L773.83 369.86 L776.50 370.40 L778.66 370.88 L780.79 371.41 L782.88 371.96 L784.94 372.55 L786.97 373.16 L788.96 373.78 L790.92 374.43 L792.85 375.08 L794.75 375.74 L796.62 376.41 L798.46 377.07 L800.27 377.73 L802.05 378.37 L803.80 379.00 L805.22 379.51 L806.61 380.02 L807.97 380.53 L809.32 381.03 L810.64 381.54 L811.94 382.05 L813.23 382.56 L814.49 383.07 L815.74 383.59 L816.98 384.10 L818.20 384.62 L819.41 385.14 L820.61 385.67 L821.80 386.20 L822.84 386.67 L823.87 387.14 L824.88 387.60 L825.87 388.07 L826.86 388.53 L827.83 389.00 L828.80 389.47 L829.76 389.95 L830.70 390.44 L831.65 390.93 L832.59 391.43 L833.53 391.94 L834.46 392.46 L835.40 393.00 L836.39 393.59 L837.47 394.26 L838.62 395.00 L839.81 395.77 L841.00 396.57 L842.19 397.37 L843.34 398.15 L844.41 398.89 L845.40 399.57 L846.26 400.18 L846.98 400.68 L847.53 401.07 L847.88 401.31 L848.00 401.40"/>
<path d="M671.3 339.5 L683.70 367.70 L683.94 367.71 L684.64 367.72 L685.73 367.75 L687.16 367.78 L688.89 367.83 L690.85 367.88 L692.99 367.93 L695.27 367.99 L697.61 368.06 L699.98 368.13 L702.32 368.19 L704.57 368.26 L706.68 368.33 L708.60 368.40 L710.48 368.47 L712.40 368.53 L714.34 368.59 L716.31 368.66 L718.29 368.72 L720.26 368.79 L722.23 368.87 L724.18 368.94 L726.11 369.03 L727.99 369.12 L729.84 369.22 L731.62 369.34 L733.35 369.46 L735.00 369.60 L736.18 369.71 L737.30 369.82 L738.38 369.93 L739.42 370.04 L740.43 370.16 L741.43 370.28 L742.41 370.41 L743.39 370.55 L744.38 370.69 L745.39 370.85 L746.43 371.02 L747.50 371.20 L748.62 371.39 L749.80 371.60 L751.47 371.90 L753.22 372.22 L755.02 372.55 L756.88 372.90 L758.79 373.26 L760.73 373.65 L762.69 374.06 L764.68 374.49 L766.68 374.94 L768.68 375.42 L770.67 375.93 L772.64 376.46 L774.59 377.01 L776.50 377.60 L778.50 378.24 L780.56 378.92 L782.65 379.62 L784.77 380.35 L786.89 381.11 L789.01 381.90 L791.10 382.71 L793.16 383.55 L795.16 384.41 L797.10 385.29 L798.96 386.19 L800.72 387.11 L802.37 388.05 L803.90 389.00 L804.93 389.70 L805.91 390.40 L806.84 391.12 L807.73 391.84 L808.58 392.58 L809.40 393.33 L810.18 394.08 L810.93 394.86 L811.65 395.64 L812.36 396.44 L813.04 397.25 L813.71 398.09 L814.36 398.93 L815.00 399.80 L815.64 400.74 L816.30 401.82 L816.96 402.99 L817.61 404.24 L818.25 405.52 L818.87 406.80 L819.45 408.06 L819.99 409.25 L820.47 410.35 L820.89 411.33 L821.23 412.14 L821.48 412.76 L821.64 413.16 L821.70 413.30"/>
<path d="M671.3 339.5 L683.70 369.60 L683.94 369.61 L684.64 369.64 L685.73 369.69 L687.17 369.76 L688.89 369.84 L690.85 369.94 L693.00 370.04 L695.27 370.16 L697.62 370.29 L699.98 370.42 L702.32 370.56 L704.57 370.71 L706.68 370.85 L708.60 371.00 L710.48 371.15 L712.40 371.31 L714.35 371.47 L716.32 371.63 L718.30 371.80 L720.27 371.98 L722.24 372.17 L724.20 372.36 L726.12 372.57 L728.01 372.79 L729.85 373.02 L731.63 373.26 L733.35 373.52 L735.00 373.80 L736.19 374.01 L737.32 374.21 L738.41 374.41 L739.45 374.61 L740.47 374.81 L741.47 375.02 L742.46 375.24 L743.45 375.48 L744.44 375.74 L745.45 376.03 L746.48 376.34 L747.54 376.69 L748.65 377.07 L749.80 377.50 L751.51 378.17 L753.30 378.92 L755.17 379.74 L757.10 380.62 L759.07 381.56 L761.07 382.55 L763.08 383.59 L765.10 384.65 L767.11 385.75 L769.10 386.87 L771.04 388.00 L772.93 389.13 L774.76 390.27 L776.50 391.40 L778.05 392.44 L779.60 393.53 L781.15 394.65 L782.69 395.80 L784.21 396.96 L785.70 398.14 L787.16 399.33 L788.58 400.51 L789.94 401.69 L791.24 402.85 L792.48 403.99 L793.64 405.10 L794.71 406.17 L795.70 407.20 L796.28 407.84 L796.84 408.46 L797.36 409.07 L797.85 409.67 L798.32 410.27 L798.77 410.85 L799.19 411.43 L799.58 412.01 L799.96 412.59 L800.32 413.16 L800.66 413.74 L800.99 414.32 L801.30 414.91 L801.60 415.50 L801.85 416.05 L802.09 416.65 L802.33 417.30 L802.55 417.97 L802.76 418.66 L802.96 419.34 L803.14 420.00 L803.30 420.62 L803.45 421.19 L803.57 421.69 L803.67 422.11 L803.74 422.43 L803.78 422.63 L803.80 422.70"/>
<path d="M671.3 339.5 L683.70 371.20 L683.95 371.21 L684.64 371.24 L685.74 371.30 L687.19 371.38 L688.92 371.48 L690.89 371.62 L693.04 371.78 L695.32 371.97 L697.67 372.19 L700.03 372.44 L702.37 372.73 L704.61 373.05 L706.70 373.41 L708.60 373.80 L710.54 374.28 L712.55 374.85 L714.64 375.48 L716.75 376.17 L718.89 376.90 L721.02 377.67 L723.11 378.46 L725.15 379.25 L727.12 380.04 L728.99 380.82 L730.73 381.56 L732.33 382.27 L733.76 382.92 L735.00 383.50 L735.50 383.74 L735.95 383.97 L736.37 384.18 L736.75 384.39 L737.10 384.58 L737.43 384.77 L737.75 384.97 L738.06 385.16 L738.37 385.37 L738.68 385.58 L739.01 385.81 L739.35 386.05 L739.71 386.31 L740.10 386.60 L740.71 387.06 L741.36 387.55 L742.02 388.07 L742.71 388.61 L743.41 389.19 L744.12 389.79 L744.85 390.40 L745.57 391.04 L746.30 391.69 L747.02 392.35 L747.74 393.03 L748.44 393.72 L749.13 394.41 L749.80 395.10 L750.52 395.87 L751.24 396.67 L751.95 397.48 L752.66 398.31 L753.36 399.16 L754.06 400.03 L754.75 400.90 L755.43 401.79 L756.11 402.69 L756.77 403.59 L757.42 404.49 L758.06 405.39 L758.69 406.30 L759.30 407.20 L759.89 408.08 L760.46 408.96 L761.02 409.83 L761.58 410.71 L762.12 411.60 L762.65 412.49 L763.17 413.38 L763.69 414.29 L764.19 415.20 L764.69 416.13 L765.18 417.07 L765.66 418.03 L766.13 419.01 L766.60 420.00 L767.12 421.14 L767.63 422.31 L768.15 423.51 L768.65 424.73 L769.14 425.96 L769.63 427.22 L770.10 428.48 L770.56 429.75 L771.00 431.02 L771.42 432.30 L771.83 433.56 L772.21 434.82 L772.57 436.07 L772.90 437.30 L773.19 438.44 L773.45 439.59 L773.69 440.74 L773.92 441.90 L774.13 443.06 L774.32 444.22 L774.50 445.37 L774.67 446.51 L774.82 447.64 L774.97 448.75 L775.11 449.85 L775.24 450.92 L775.37 451.97 L775.50 453.00 L775.60 453.86 L775.70 454.79 L775.80 455.76 L775.89 456.76 L775.98 457.76 L776.06 458.74 L776.13 459.69 L776.20 460.58 L776.26 461.38 L776.31 462.09 L776.35 462.68 L776.38 463.12 L776.39 463.40 L776.40 463.50"/>
<path d="M671.3 339.5 L683.70 373.10 L683.96 373.13 L684.70 373.22 L685.86 373.36 L687.38 373.55 L689.19 373.78 L691.24 374.06 L693.46 374.38 L695.78 374.72 L698.16 375.10 L700.52 375.51 L702.81 375.93 L704.96 376.38 L706.91 376.83 L708.60 377.30 L709.85 377.70 L711.07 378.11 L712.26 378.54 L713.43 378.99 L714.57 379.46 L715.69 379.94 L716.80 380.44 L717.88 380.95 L718.94 381.48 L719.98 382.02 L721.01 382.57 L722.02 383.14 L723.02 383.71 L724.00 384.30 L724.89 384.85 L725.77 385.40 L726.64 385.98 L727.51 386.56 L728.36 387.15 L729.19 387.76 L730.01 388.38 L730.81 389.00 L731.58 389.63 L732.33 390.27 L733.05 390.92 L733.73 391.58 L734.39 392.24 L735.00 392.90 L735.48 393.46 L735.93 394.01 L736.36 394.57 L736.76 395.14 L737.14 395.71 L737.50 396.28 L737.85 396.86 L738.18 397.45 L738.51 398.04 L738.83 398.65 L739.14 399.27 L739.46 399.90 L739.78 400.54 L740.10 401.20 L740.48 401.98 L740.85 402.80 L741.22 403.64 L741.58 404.50 L741.94 405.37 L742.29 406.26 L742.63 407.16 L742.96 408.06 L743.28 408.96 L743.60 409.86 L743.89 410.74 L744.18 411.62 L744.45 412.47 L744.70 413.30 L744.90 414.00 L745.10 414.67 L745.27 415.34 L745.44 415.99 L745.60 416.64 L745.75 417.28 L745.89 417.93 L746.03 418.57 L746.16 419.22 L746.29 419.88 L746.42 420.56 L746.55 421.25 L746.67 421.96 L746.80 422.70 L746.96 423.64 L747.11 424.61 L747.26 425.60 L747.41 426.61 L747.55 427.65 L747.69 428.70 L747.82 429.76 L747.95 430.83 L748.07 431.91 L748.18 432.99 L748.30 434.07 L748.40 435.16 L748.50 436.23 L748.60 437.30 L748.69 438.41 L748.77 439.54 L748.85 440.68 L748.92 441.83 L748.98 442.99 L749.04 444.15 L749.09 445.31 L749.14 446.46 L749.18 447.60 L749.23 448.73 L749.27 449.83 L749.31 450.92 L749.36 451.97 L749.40 453.00 L749.44 453.86 L749.48 454.79 L749.52 455.77 L749.55 456.77 L749.59 457.77 L749.63 458.75 L749.66 459.69 L749.70 460.58 L749.73 461.39 L749.75 462.09 L749.77 462.68 L749.79 463.12 L749.80 463.40 L749.80 463.50"/>
<path d="M671.3 339.5 L683.70 374.90 L683.98 374.95 L684.77 375.08 L686.01 375.29 L687.61 375.57 L689.52 375.92 L691.66 376.33 L693.96 376.80 L696.34 377.31 L698.75 377.86 L701.11 378.44 L703.34 379.06 L705.38 379.69 L707.16 380.34 L708.60 381.00 L709.40 381.44 L710.16 381.89 L710.87 382.36 L711.54 382.84 L712.18 383.33 L712.78 383.83 L713.36 384.35 L713.91 384.89 L714.45 385.44 L714.97 386.01 L715.48 386.60 L715.99 387.21 L716.49 387.85 L717.00 388.50 L717.57 389.28 L718.13 390.10 L718.67 390.95 L719.20 391.84 L719.71 392.76 L720.20 393.70 L720.68 394.66 L721.13 395.62 L721.58 396.60 L722.00 397.58 L722.40 398.55 L722.79 399.51 L723.15 400.47 L723.50 401.40 L723.80 402.25 L724.07 403.10 L724.33 403.95 L724.57 404.80 L724.79 405.65 L725.00 406.50 L725.19 407.35 L725.37 408.20 L725.54 409.05 L725.70 409.90 L725.86 410.75 L726.01 411.60 L726.16 412.45 L726.30 413.30 L726.43 414.13 L726.56 414.96 L726.67 415.78 L726.77 416.60 L726.86 417.42 L726.95 418.23 L727.03 419.06 L727.10 419.88 L727.17 420.71 L727.24 421.55 L727.31 422.39 L727.37 423.25 L727.43 424.12 L727.50 425.00 L727.57 426.08 L727.65 427.31 L727.72 428.63 L727.79 430.02 L727.86 431.45 L727.92 432.87 L727.98 434.26 L728.03 435.57 L728.08 436.78 L728.12 437.85 L728.16 438.74 L728.18 439.41 L728.19 439.85 L728.20 440.00 L728.50 452.00 L728.50 506.40"/>
</g>
<g fill="none" stroke="#1a1a1a" stroke-width="1.35">
<path d="M728.7 506.4 L749.8 463.500" stroke-dasharray="6.2 5" stroke-dashoffset="0"/>
<path d="M749.8 463.5 H776.4" stroke-dasharray="11 3.500"/>
<path d="M776.4 463.5 L803.8 422.7" stroke-dasharray="6.2 5" stroke-dashoffset="6.5"/>
<path d="M803.8 422.7 L821.7 413.3 L848 401.4" stroke-dasharray="6.2 5" stroke-dashoffset="8"/>
<path d="M848 401.4 H901.8" stroke-dasharray="7 2.800"/>
</g>
<text x="723.4" y="515.9" font-size="7.6" style="fill:#e2202d;stroke:#e2202d;stroke-width:0.32px">5C</text>
<text x="751.2" y="473.4" font-size="7.6" style="fill:#e2202d;stroke:#e2202d;stroke-width:0.32px">3C</text>
<text x="776.3" y="472.9" font-size="7.6" style="fill:#e2202d;stroke:#e2202d;stroke-width:0.32px">2C</text>
<text x="805.2" y="431.8" font-size="7.6" style="fill:#e2202d;stroke:#e2202d;stroke-width:0.32px">1.1C</text>
<text x="815.1" y="422.5" font-size="7.6" style="fill:#e2202d;stroke:#e2202d;stroke-width:0.32px">0.6C</text>
<text x="841" y="411.6" font-size="7.6" style="fill:#e2202d;stroke:#e2202d;stroke-width:0.32px">0.25C</text>
<text x="867.9" y="410.2" font-size="7.6" style="fill:#e2202d;stroke:#e2202d;stroke-width:0.32px">0.17C</text>
<text x="897" y="409.6" font-size="7.6" style="fill:#e2202d;stroke:#e2202d;stroke-width:0.32px">0.1C</text>
<g fill="none" stroke="#3a3a3a" stroke-width="1.2">
<path d="M668.9 541.200 V551.2 M821.6 541.2 V551.2 M933.8 541.2 V551.2"/>
</g>
<g fill="none" stroke="#3a3a3a" stroke-width="0.9">
<path d="M670 546.100 H734.5 M748 546.1 H820.500 M822.6 546.1 H868.6 M876.800 546.1 H933"/>
</g>
<path d="M669.8 546.1 l3.2 -1.100 v2.2 Z M821 546.1 l-3.2 -1.100 v2.2 Z M822.3 546.1 l3.2 -1.1 v2.2 Z M933.2 546.1 l-3.2 -1.1 v2.2 Z" fill="#3a3a3a"/>
<text x="741" y="548.1" font-size="5.6" text-anchor="middle" style="fill:#2a2a2a;stroke:#2a2a2a;stroke-width:0.08px">Min</text>
<text x="872.6" y="548.1" font-size="5.6" text-anchor="middle" style="fill:#2a2a2a;stroke:#2a2a2a;stroke-width:0.08px">H</text>
<text transform="translate(650.2 528.5) rotate(-90)" font-size="10.3" style="white-space:pre">Loading  Voltage (V)</text>
<text x="670.4" y="562.600" font-size="10.2">Discharge Time</text>
</svg>
</body>
</html>
